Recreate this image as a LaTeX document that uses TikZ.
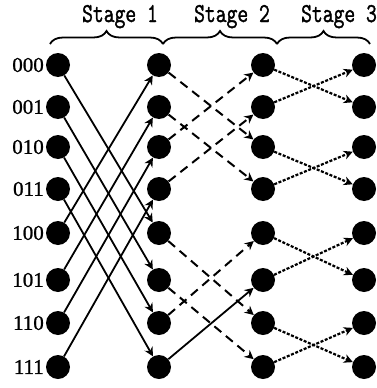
\documentclass[tikz,border=0pt]{standalone}
\usepackage{fontspec}
\usepackage{graphicx}
\newfontfamily\labfont{Liberation Serif}[FakeBold=1]
\newfontfamily\stagefont{Latin Modern Mono}[FakeBold=1.6]
\usetikzlibrary{arrows.meta,decorations.pathreplacing}
\begin{document}
\begin{tikzpicture}[x=1pt,y=-1pt,
  dot/.style={circle,fill=black,inner sep=0pt,minimum size=24pt},
  rowlab/.style={anchor=east,inner sep=0pt,font=\labfont\fontsize{21}{24}\selectfont},
  stagelab/.style={anchor=base,inner sep=0pt,font=\stagefont\fontsize{21}{24}\selectfont},
  tipped/.style={-{Stealth[length=9pt,width=9pt]}},
  solidlink/.style={tipped,line width=1.8pt},
  dashlink/.style={tipped,line width=2pt,dash pattern=on 9pt off 6pt},
  finelink/.style={tipped,line width=2.2pt,dash pattern=on 3pt off 1.6pt},
  bracestyle/.style={line width=1.8pt,decorate,decoration={brace,amplitude=13pt}}
]
\useasboundingbox (0,0) rectangle (376,388);
\def\rows{65,107,147,189,233,280,323,367}
\foreach \yy [count=\i from 0] in \rows {
  \node[dot] (a\i) at (58,\yy) {};
  \node[dot] (b\i) at (159,\yy) {};
  \node[dot] (c\i) at (263,\yy) {};
  \node[dot] (d\i) at (364,\yy) {};
}
\node[rowlab] (l0) at (44,65) {000};
\node[rowlab] (l1) at (44,107) {001};
\node[rowlab] (l2) at (44,147) {010};
\node[rowlab] (l3) at (44,189) {011};
\node[rowlab] (l4) at (44,233) {100};
\node[rowlab] (l5) at (44,280) {101};
\node[rowlab] (l6) at (44,323) {110};
\node[rowlab] (l7) at (44,367) {111};
% stage 1
\draw[solidlink] (a0) -- (b4);
\draw[solidlink] (a1) -- (b5);
\draw[solidlink] (a2) -- (b6);
\draw[solidlink] (a3) -- (b7);
\draw[solidlink] (a4) -- (b0);
\draw[solidlink] (a5) -- (b1);
\draw[solidlink] (a6) -- (b2);
\draw[solidlink] (a7) -- (b3);
% stage 2
\draw[dashlink] (b0) -- (c2);
\draw[dashlink] (b2) -- (c0);
\draw[dashlink] (b1) -- (c3);
\draw[dashlink] (b3) -- (c1);
\draw[dashlink] (b4) -- (c6);
\draw[dashlink] (b6) -- (c4);
\draw[dashlink] (b5) -- (c7);
\draw[solidlink] (b7) -- (c5);
% stage 3
\draw[finelink] (c0) -- (d1);
\draw[finelink] (c1) -- (d0);
\draw[finelink] (c2) -- (d3);
\draw[finelink] (c3) -- (d2);
\draw[finelink] (c4) -- (d5);
\draw[finelink] (c5) -- (d4);
\draw[finelink] (c6) -- (d7);
\draw[finelink] (c7) -- (d6);
% braces
\coordinate (p0) at (50,44);
\coordinate (p1) at (163,44);
\coordinate (p2) at (277,44);
\coordinate (p3) at (370,44);
\draw[bracestyle] (p0) -- (p1);
\draw[bracestyle] (p1) -- (p2);
\draw[bracestyle] (p2) -- (p3);
\node[stagelab] (s1) at (120,22) {\scalebox{1}[1.3]{Stage 1}};
\node[stagelab] (s2) at (232,22) {\scalebox{1}[1.3]{Stage 2}};
\node[stagelab] (s3) at (339,22) {\scalebox{1}[1.3]{Stage 3}};
\end{tikzpicture}
\end{document}
